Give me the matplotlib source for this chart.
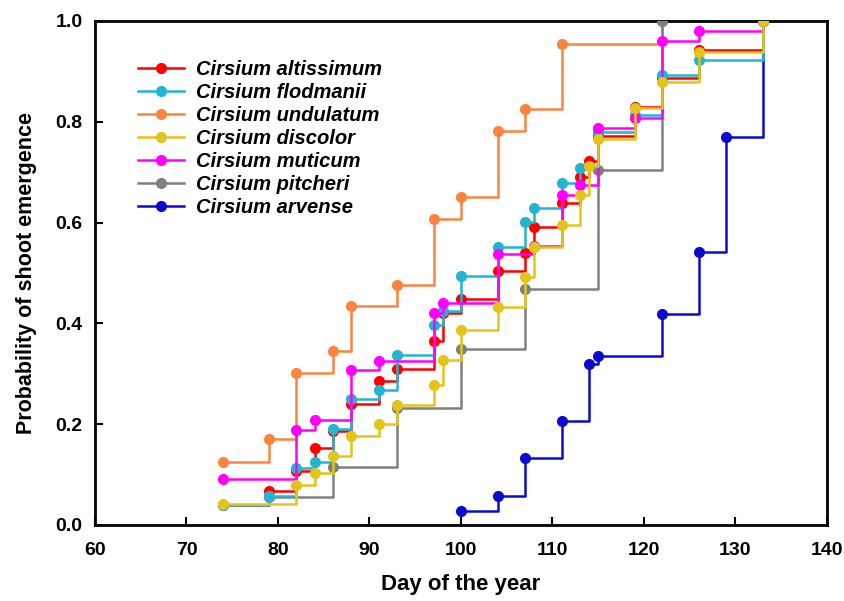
import numpy as np
import matplotlib
matplotlib.use("Agg")
import matplotlib.pyplot as plt
from matplotlib.lines import Line2D

plt.rcParams['font.family'] = ['Liberation Sans', 'DejaVu Sans']

# --- DATA: day of year and cumulative probability of emergence ---
altissimum_day = [74, 79, 82, 84, 86, 88, 91, 93, 97, 98, 100, 104, 107, 108, 111, 113, 114, 115, 119, 122, 126, 133]
altissimum_p = [0.040, 0.068, 0.107, 0.153, 0.187, 0.240, 0.285, 0.310, 0.365, 0.420, 0.448, 0.503, 0.539, 0.591,
                0.638, 0.691, 0.722, 0.772, 0.830, 0.886, 0.942, 1.0]

flodmanii_day = [74, 79, 82, 84, 86, 88, 91, 93, 97, 98, 100, 104, 107, 108, 111, 113, 115, 119, 122, 126, 133]
flodmanii_p = [0.040, 0.058, 0.113, 0.125, 0.190, 0.249, 0.268, 0.337, 0.396, 0.425, 0.494, 0.551, 0.602, 0.629,
               0.678, 0.708, 0.780, 0.813, 0.893, 0.923, 1.0]

undulatum_day = [74, 79, 82, 86, 88, 93, 97, 100, 104, 107, 111, 122]
undulatum_p = [0.125, 0.171, 0.302, 0.345, 0.434, 0.477, 0.607, 0.651, 0.782, 0.826, 0.955, 1.0]

discolor_day = [74, 82, 84, 86, 88, 91, 93, 97, 98, 100, 104, 107, 108, 111, 113, 114, 115, 119, 122, 126, 133]
discolor_p = [0.042, 0.079, 0.104, 0.136, 0.177, 0.201, 0.238, 0.278, 0.327, 0.387, 0.432, 0.492, 0.552, 0.595,
              0.655, 0.713, 0.766, 0.828, 0.879, 0.939, 1.0]

muticum_day = [74, 82, 84, 88, 91, 97, 98, 104, 108, 111, 113, 115, 119, 122, 126, 133]
muticum_p = [0.092, 0.189, 0.208, 0.307, 0.325, 0.421, 0.440, 0.537, 0.554, 0.655, 0.675, 0.788, 0.808, 0.960,
             0.981, 1.0]

pitcheri_day = [79, 86, 93, 100, 107, 115, 122]
pitcheri_p = [0.055, 0.115, 0.232, 0.350, 0.469, 0.705, 1.0]

arvense_day = [100, 104, 107, 111, 114, 115, 122, 126, 129, 133]
arvense_p = [0.027, 0.057, 0.133, 0.207, 0.320, 0.336, 0.418, 0.541, 0.769, 1.0]

species = ['Cirsium altissimum', 'Cirsium flodmanii', 'Cirsium undulatum', 'Cirsium discolor',
           'Cirsium muticum', 'Cirsium pitcheri', 'Cirsium arvense']
days = [altissimum_day, flodmanii_day, undulatum_day, discolor_day, muticum_day, pitcheri_day, arvense_day]
probs = [altissimum_p, flodmanii_p, undulatum_p, discolor_p, muticum_p, pitcheri_p, arvense_p]
colors = ['#ff0000', '#22b4d0', '#fa8440', '#e3c41c', '#ff00ff', '#808080', '#0a0ad0']
zorders = [5, 6, 3, 8, 7, 4, 2]

# --- FIGURE ---
fig = plt.figure(figsize=(8.45, 6.01), dpi=100)
ax = fig.add_axes([0.1124, 0.1265, 0.8663, 0.8386])

for name, d, p, c, z in zip(species, days, probs, colors, zorders):
    ax.plot(d, p, drawstyle='steps-post', color=c, lw=1.8, zorder=z)
    ax.plot(d, p, 'o', color=c, ms=7, zorder=z + 0.5)

# legend: line with a marker in the middle
handles = [Line2D([], [], color=c, lw=1.8, marker='o', ms=7) for c in colors]
ax.legend(handles, species, loc='upper left', bbox_to_anchor=(0.045, 0.942),
          frameon=False, borderpad=0, handlelength=2.3, handletextpad=0.6,
          labelspacing=0.2, prop={'style': 'italic', 'weight': 'bold', 'size': 14.5})

ax.set_xlim(60, 140)
ax.set_ylim(0, 1.0)
ax.set_xticks(np.arange(60, 141, 10))
ax.set_yticks(np.arange(0, 1.01, 0.2))
ax.set_yticklabels(['0.0', '0.2', '0.4', '0.6', '0.8', '1.0'])
ax.tick_params(direction='in', length=6, width=1.5, labelsize=14)
ax.tick_params(axis='x', pad=12)
ax.tick_params(axis='y', pad=9)
for lab in ax.get_xticklabels() + ax.get_yticklabels():
    lab.set_fontweight('bold')
for s in ax.spines.values():
    s.set_linewidth(2)

ax.set_xlabel('Day of the year', fontsize=16, fontweight='bold', labelpad=11)
ax.set_ylabel('Probability of shoot emergence', fontsize=15.5, fontweight='bold', labelpad=13)

fig.savefig('out.png', dpi=100)
